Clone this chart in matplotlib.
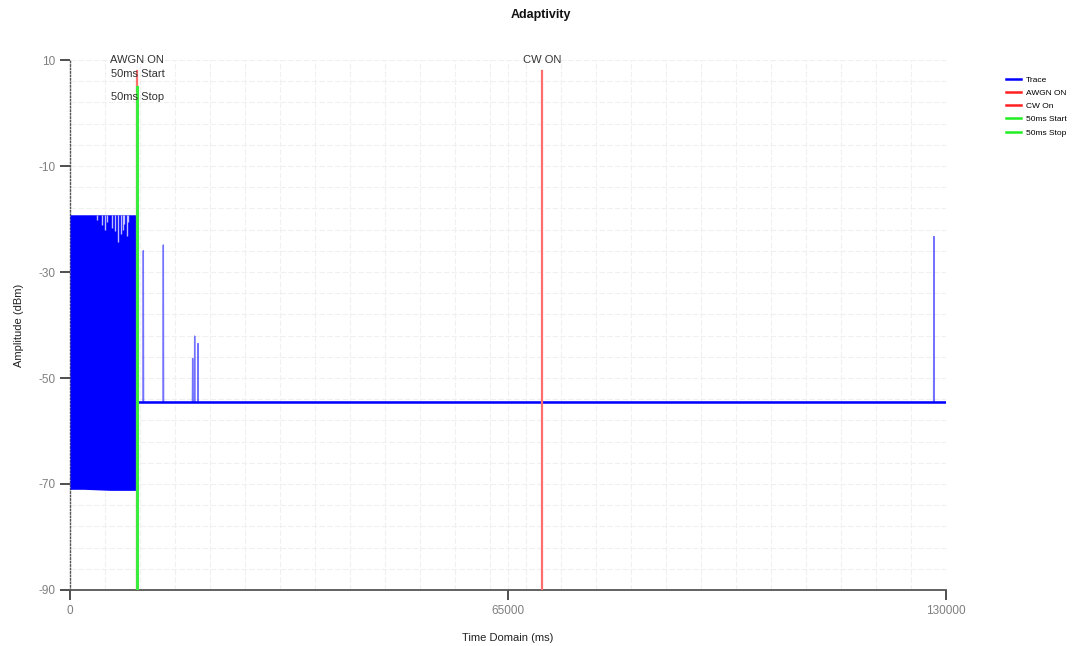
import numpy as np
import matplotlib
matplotlib.use('Agg')
import matplotlib.pyplot as plt
from matplotlib.lines import Line2D

plt.rcParams['font.family'] = ['Liberation Sans', 'DejaVu Sans']
plt.rcParams['axes.unicode_minus'] = False

# AWGN burst (0 - 10000 ms): max / min of the trace
burst_t = [0, 2000, 4000, 6000, 8000, 10000]
burst_hi = [-19.2, -19.2, -19.2, -19.2, -19.2, -19.2]
burst_lo = [-71.0, -71.0, -71.1, -71.2, -71.2, -71.2]
# short drops of the burst maximum
dip_t = [4050, 4700, 5200, 5550, 6200, 6680, 7170, 7520, 7820, 8060, 8410, 8650]
dip_db = [-20.2, -21.1, -22.0, -20.6, -21.7, -22.2, -24.4, -22.9, -22.0, -21.0, -23.3, -20.6]

# after AWGN off: noise floor with a few spikes
floor_db = -54.6
spike_t = [10880, 13850, 18200, 18500, 19000, 128200]
spike_db = [-26.0, -24.9, -46.3, -42.1, -43.5, -23.3]
trace_end = 130000

# event markers
awgn_on = 10000
cw_on = 70000
start_50ms = 10000
stop_50ms = 10050

xticks = [0, 65000, 130000]
yticks = [10, -10, -30, -50, -70, -90]

blue = '#0000ff'
red = '#ff6e6e'
green = '#3cec3c'
tick_grey = '#7f7f7f'

fig = plt.figure(figsize=(10.82, 6.46), dpi=100)
ax = fig.add_axes([0.0647, 0.0867, 0.8096, 0.8204])

# trace: burst envelope
ax.fill_between(burst_t, burst_lo, burst_hi, color=blue, lw=0, zorder=3)
ax.vlines(dip_t, dip_db, burst_hi[0], color='white', lw=1.0, alpha=0.75, zorder=3)

# trace: floor + spikes
tx = [stop_50ms]
ty = [floor_db]
for t, v in zip(spike_t, spike_db):
    tx += [t - 40, t, t + 40]
    ty += [floor_db, v, floor_db]
tx.append(trace_end)
ty.append(floor_db)
ax.plot(tx, ty, color=blue, lw=1.0, alpha=0.55, zorder=3)
ax.plot([stop_50ms, trace_end], [floor_db, floor_db], color=blue, lw=1.8, zorder=3)

# marker lines
ax.plot([awgn_on, awgn_on], [8, -90], color=red, lw=1.6, zorder=4)
ax.plot([cw_on, cw_on], [8, -90], color=red, lw=1.6, zorder=4)
ax.plot([start_50ms, start_50ms], [5, -90], color=green, lw=1.5, zorder=5)
ax.plot([stop_50ms, stop_50ms], [5, -90], color=green, lw=1.5, zorder=5)

lab = dict(ha='center', va='center', fontsize=8, color='#333333', zorder=6)
ax.text(awgn_on, 10.0, 'AWGN ON', **lab)
ax.text(start_50ms, 7.3, '50ms Start', **lab)
ax.text(stop_50ms, 3.0, '50ms Stop', **lab)
ax.text(cw_on, 10.0, 'CW ON', **lab)

ax.set_xlim(0, 130000)
ax.set_ylim(-90, 10)
ax.set_xticks(xticks)
ax.set_yticks(yticks)
ax.set_xticks(np.arange(0, 130001, 5200), minor=True)
ax.set_yticks(np.arange(-90, 10.1, 4), minor=True)
ax.grid(which='both', color='#f0f0f0', lw=0.8, ls=(0, (5, 2)), zorder=0)
ax.tick_params(which='minor', length=0)
ax.tick_params(which='major', length=7, width=1.3, color='#404040',
               labelcolor=tick_grey, labelsize=8.5)

for s in ['top', 'right']:
    ax.spines[s].set_visible(False)
ax.spines['left'].set_linestyle((0, (1, 1.5)))
ax.spines['left'].set_color('#555555')
ax.spines['left'].set_linewidth(1.0)
ax.spines['bottom'].set_color('#555555')
ax.spines['bottom'].set_linewidth(1.3)

ax.set_xlabel('Time Domain (ms)', fontsize=8, color='#222222', labelpad=12)
ax.set_ylabel('Amplitude (dBm)', fontsize=8, color='#222222', labelpad=10)
fig.text(0.5, 0.977, 'Adaptivity', ha='center', va='center', fontsize=9,
         fontweight='bold', color='#111111')

handles = [Line2D([], [], color=blue, lw=1.8),
           Line2D([], [], color='#ff2020', lw=1.8),
           Line2D([], [], color='#ff2020', lw=1.8),
           Line2D([], [], color='#20ee20', lw=1.8),
           Line2D([], [], color='#20ee20', lw=1.8)]
fig.legend(handles, ['Trace', 'AWGN ON', 'CW On', '50ms Start', '50ms Stop'],
           loc='upper left', bbox_to_anchor=(0.927, 0.888), frameon=False,
           fontsize=6, handlelength=1.7, handletextpad=0.6, labelspacing=0.65,
           borderaxespad=0)

fig.savefig('out.png', dpi=100)
